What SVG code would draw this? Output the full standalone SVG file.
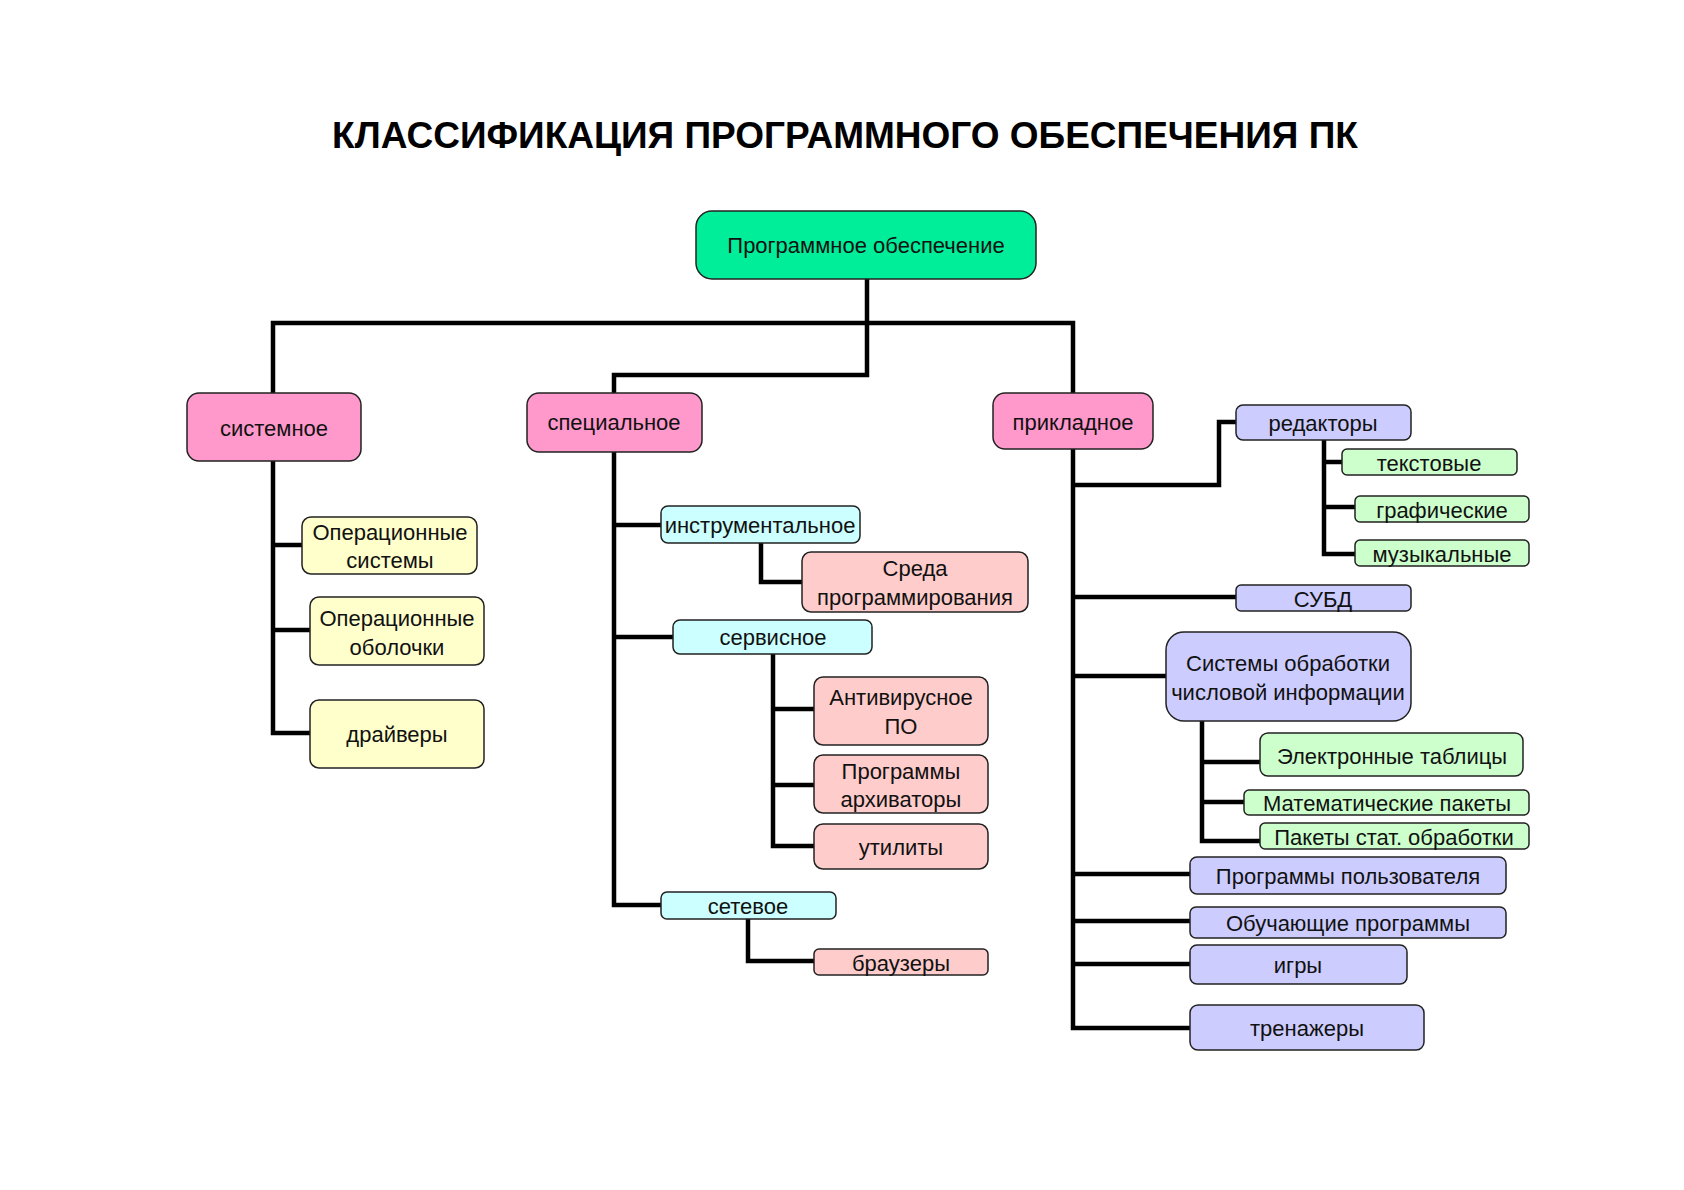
<svg xmlns="http://www.w3.org/2000/svg" width="1684" height="1190" viewBox="0 0 1684 1190">
<style>
.b{stroke:#222;stroke-width:1.5}
.t{font-family:"Liberation Sans",Arial,sans-serif;font-size:22px;fill:#111;text-anchor:middle}
.c{fill:none;stroke:#000;stroke-width:4.5}
.pk{fill:#ff99cc}.yl{fill:#ffffcc}.cy{fill:#ccffff}.sl{fill:#ffcccc}.lv{fill:#ccccff}.gr{fill:#ccffcc}
</style>
<rect width="1684" height="1190" fill="#fff"/>
<text x="845" y="148" style="font-family:'Liberation Sans',Arial,sans-serif;font-size:37px;font-weight:bold;text-anchor:middle">КЛАССИФИКАЦИЯ ПРОГРАММНОГО ОБЕСПЕЧЕНИЯ ПК</text>
<g id="connectors" class="c">
<path d="M867 279V375H614V393"/>
<path d="M273 393V323H1073V393"/>
<path d="M273 461V733H310M273 545H302M273 630H310"/>
<path d="M614 452V905H661M614 525H661M614 637H673"/>
<path d="M761 543V582H802"/>
<path d="M773 654V846H814M773 709H814M773 785H814"/>
<path d="M748 919V961H814"/>
<path d="M1073 449V1028H1190M1073 485H1219V422H1236M1073 597H1236M1073 676H1166M1073 874H1190M1073 921H1190M1073 964H1190"/>
<path d="M1324 440V554H1355M1324 462H1342M1324 507H1355"/>
<path d="M1202 721V841H1260M1202 762H1260M1202 802H1244"/>
</g>
<g id="root"><rect class="b" x="696" y="211" width="340" height="68" rx="16" fill="#00ee99"/><text class="t" x="866" y="253">Программное обеспечение</text></g>
<g id="sys"><rect class="b pk" x="187" y="393" width="174" height="68" rx="12"/><text class="t" x="274" y="436">системное</text></g>
<g id="spec"><rect class="b pk" x="527" y="393" width="175" height="59" rx="12"/><text class="t" x="614" y="430">специальное</text></g>
<g id="appl"><rect class="b pk" x="993" y="393" width="160" height="56" rx="12"/><text class="t" x="1073" y="430">прикладное</text></g>
<g id="os"><rect class="b yl" x="302" y="517" width="175" height="57" rx="9"/><text class="t" x="390" y="540">Операционные</text><text class="t" x="390" y="568">системы</text></g>
<g id="osh"><rect class="b yl" x="310" y="597" width="174" height="68" rx="9"/><text class="t" x="397" y="626">Операционные</text><text class="t" x="397" y="655">оболочки</text></g>
<g id="drv"><rect class="b yl" x="310" y="700" width="174" height="68" rx="9"/><text class="t" x="397" y="742">драйверы</text></g>
<g id="instr"><rect class="b cy" x="661" y="506" width="199" height="37" rx="7"/><text class="t" x="760" y="533">инструментальное</text></g>
<g id="sreda"><rect class="b sl" x="802" y="552" width="226" height="60" rx="9"/><text class="t" x="915" y="576">Среда</text><text class="t" x="915" y="605">программирования</text></g>
<g id="serv"><rect class="b cy" x="673" y="620" width="199" height="34" rx="7"/><text class="t" x="773" y="645">сервисное</text></g>
<g id="av"><rect class="b sl" x="814" y="677" width="174" height="68" rx="9"/><text class="t" x="901" y="705">Антивирусное</text><text class="t" x="901" y="734">ПО</text></g>
<g id="arch"><rect class="b sl" x="814" y="755" width="174" height="58" rx="9"/><text class="t" x="901" y="779">Программы</text><text class="t" x="901" y="807">архиваторы</text></g>
<g id="util"><rect class="b sl" x="814" y="824" width="174" height="45" rx="9"/><text class="t" x="901" y="855">утилиты</text></g>
<g id="net"><rect class="b cy" x="661" y="892" width="175" height="27" rx="6"/><text class="t" x="748" y="914">сетевое</text></g>
<g id="brow"><rect class="b sl" x="814" y="949" width="174" height="26" rx="5"/><text class="t" x="901" y="971">браузеры</text></g>
<g id="red"><rect class="b lv" x="1236" y="405" width="175" height="35" rx="7"/><text class="t" x="1323" y="431">редакторы</text></g>
<g id="txt"><rect class="b gr" x="1342" y="449" width="175" height="26" rx="5"/><text class="t" x="1429" y="471">текстовые</text></g>
<g id="gra"><rect class="b gr" x="1355" y="496" width="174" height="26" rx="5"/><text class="t" x="1442" y="518">графические</text></g>
<g id="mus"><rect class="b gr" x="1355" y="540" width="174" height="26" rx="5"/><text class="t" x="1442" y="562">музыкальные</text></g>
<g id="subd"><rect class="b lv" x="1236" y="585" width="175" height="26" rx="5"/><text class="t" x="1323" y="607">СУБД</text></g>
<g id="son"><rect class="b lv" x="1166" y="632" width="245" height="89" rx="18"/><text class="t" x="1288" y="671">Системы обработки</text><text class="t" x="1288" y="700">числовой информации</text></g>
<g id="et"><rect class="b gr" x="1260" y="733" width="263" height="43" rx="8"/><text class="t" x="1392" y="764">Электронные таблицы</text></g>
<g id="mp"><rect class="b gr" x="1244" y="790" width="285" height="25" rx="5"/><text class="t" x="1387" y="811">Математические пакеты</text></g>
<g id="ps"><rect class="b gr" x="1260" y="823" width="269" height="26" rx="5"/><text class="t" x="1394" y="845">Пакеты стат. обработки</text></g>
<g id="pp"><rect class="b lv" x="1190" y="857" width="316" height="37" rx="7"/><text class="t" x="1348" y="884">Программы пользователя</text></g>
<g id="ob"><rect class="b lv" x="1190" y="907" width="316" height="31" rx="6"/><text class="t" x="1348" y="931">Обучающие программы</text></g>
<g id="ig"><rect class="b lv" x="1190" y="945" width="217" height="39" rx="7"/><text class="t" x="1298" y="973">игры</text></g>
<g id="tr"><rect class="b lv" x="1190" y="1005" width="234" height="45" rx="8"/><text class="t" x="1307" y="1036">тренажеры</text></g>
</svg>
